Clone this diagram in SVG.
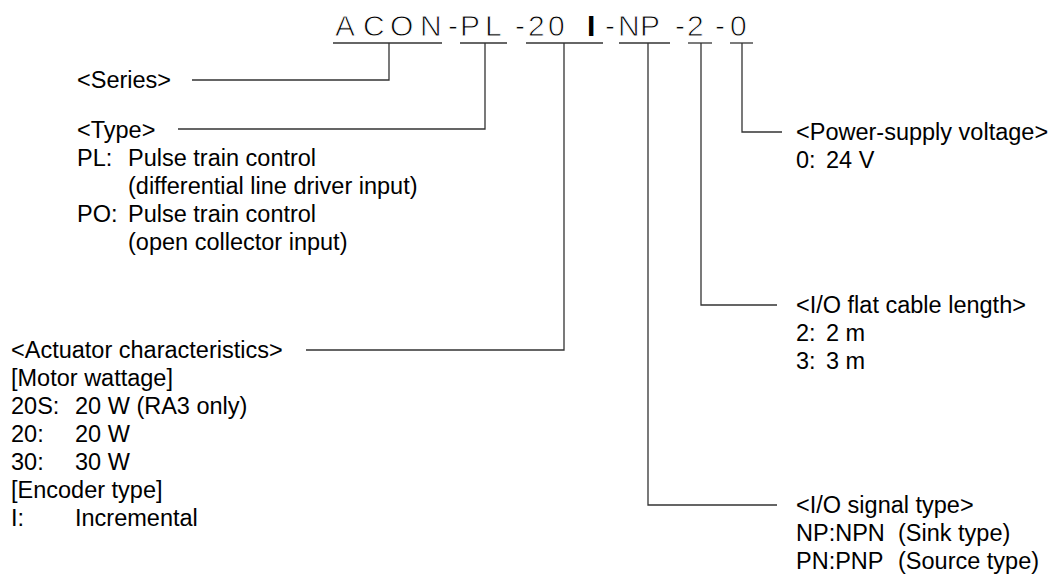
<svg xmlns="http://www.w3.org/2000/svg" width="1059" height="581" viewBox="0 0 1059 581">
<style>
.t{font-family:"Liberation Sans",Arial,sans-serif;font-size:23.5px;fill:#000}
.title{font-family:"Liberation Sans",Arial,sans-serif;font-size:30px;fill:#000;stroke:#fff;stroke-width:0.9px}
.bold{font-weight:bold;stroke:none}
.ln{stroke:#333;stroke-width:1.3;fill:none}
</style>
<rect width="1059" height="581" fill="#fff"/>
<g id="title">
<text class="title" y="36"><tspan x="335">A</tspan><tspan x="363">C</tspan><tspan x="390">O</tspan><tspan x="420">N</tspan><tspan x="448">-</tspan><tspan x="460">P</tspan><tspan x="485">L</tspan><tspan x="515">-</tspan><tspan x="528">2</tspan><tspan x="548">0</tspan><tspan x="587" class="bold">I</tspan><tspan x="605">-</tspan><tspan x="618">N</tspan><tspan x="640">P</tspan><tspan x="675">-</tspan><tspan x="687">2</tspan><tspan x="715">-</tspan><tspan x="730">0</tspan></text>
</g>
<g id="connectors" class="ln">
<line x1="333" y1="43" x2="442" y2="43"/>
<line x1="460" y1="43" x2="507" y2="43"/>
<line x1="526" y1="43" x2="603" y2="43"/>
<line x1="619" y1="43" x2="670" y2="43"/>
<line x1="688" y1="43" x2="712" y2="43"/>
<line x1="730" y1="43" x2="753" y2="43"/>
<polyline points="389,43 389,80 192,80"/>
<polyline points="485,43 485,129 178,129"/>
<polyline points="564,43 564,350 306,350"/>
<polyline points="648,43 648,505 777,505"/>
<polyline points="701,43 701,305 777,305"/>
<polyline points="742,43 742,132 782,132"/>
</g>
<g id="series">
<text class="t" x="77" y="88">&lt;Series&gt;</text>
</g>
<g id="type">
<text class="t" x="77" y="138">&lt;Type&gt;</text>
<text class="t" x="77" y="166">PL:</text><text class="t" x="128" y="166">Pulse train control</text>
<text class="t" x="128" y="194">(differential line driver input)</text>
<text class="t" x="77" y="222">PO:</text><text class="t" x="128" y="222">Pulse train control</text>
<text class="t" x="128" y="250">(open collector input)</text>
</g>
<g id="actuator">
<text class="t" x="11" y="358">&lt;Actuator characteristics&gt;</text>
<text class="t" x="11" y="386">[Motor wattage]</text>
<text class="t" x="11" y="414">20S:</text><text class="t" x="75" y="414">20 W (RA3 only)</text>
<text class="t" x="11" y="442">20:</text><text class="t" x="75" y="442">20 W</text>
<text class="t" x="11" y="470">30:</text><text class="t" x="75" y="470">30 W</text>
<text class="t" x="11" y="498">[Encoder type]</text>
<text class="t" x="11" y="526">I:</text><text class="t" x="75" y="526">Incremental</text>
</g>
<g id="power">
<text class="t" x="796" y="140">&lt;Power-supply voltage&gt;</text>
<text class="t" x="796" y="168">0:</text><text class="t" x="826" y="168">24 V</text>
</g>
<g id="cable">
<text class="t" x="796" y="313">&lt;I/O flat cable length&gt;</text>
<text class="t" x="796" y="341">2:</text><text class="t" x="826" y="341">2 m</text>
<text class="t" x="796" y="369">3:</text><text class="t" x="826" y="369">3 m</text>
</g>
<g id="signal">
<text class="t" x="796" y="513">&lt;I/O signal type&gt;</text>
<text class="t" x="796" y="541">NP:NPN</text><text class="t" x="898" y="541">(Sink type)</text>
<text class="t" x="796" y="569">PN:PNP</text><text class="t" x="898" y="569">(Source type)</text>
</g>
</svg>
